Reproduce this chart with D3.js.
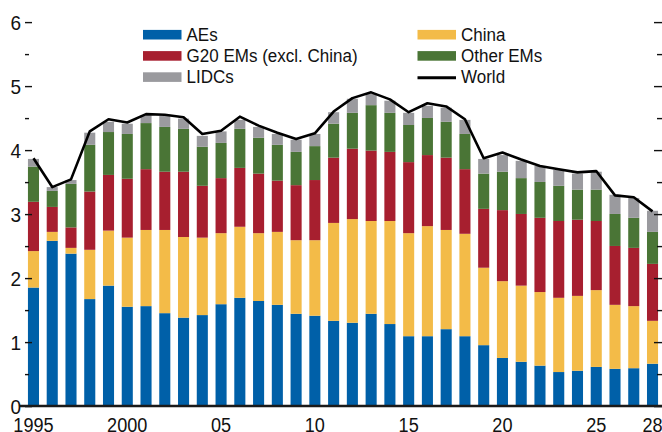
<!DOCTYPE html>
<html><head><meta charset="utf-8">
<script src="https://cdn.jsdelivr.net/npm/d3@7"></script>
<style>
html,body{margin:0;padding:0;background:#fff;}
svg{display:block;}
text{font-family:"Liberation Sans",Arial,sans-serif;fill:#111;}
</style></head>
<body><svg id="c" width="662" height="432"></svg>
<script>
const years = d3.range(1995, 2029);
const xTickLabels = {1995:"1995",2000:"2000",2005:"05",2010:"10",2015:"15",2020:"20",2025:"25",2028:"28"};
const seriesNames = ["AEs","China","G20 EMs (excl. China)","Other EMs","LIDCs"];
const aes   = [1.86,2.59,2.39,1.68,1.89,1.56,1.57,1.46,1.39,1.43,1.60,1.70,1.65,1.59,1.45,1.42,1.34,1.31,1.45,1.29,1.10,1.10,1.21,1.10,0.96,0.76,0.70,0.64,0.54,0.56,0.62,0.59,0.60,0.67];
const china = [0.57,0.14,0.09,0.77,0.86,1.08,1.19,1.30,1.26,1.21,1.11,1.11,1.06,1.14,1.15,1.18,1.53,1.62,1.45,1.61,1.61,1.72,1.55,1.60,1.21,1.20,1.19,1.15,1.16,1.17,1.20,1.00,0.97,0.67];
const g20   = [0.77,0.39,0.32,0.91,0.87,0.92,0.95,0.91,1.02,0.81,0.86,0.92,0.93,0.80,0.86,0.94,1.02,1.10,1.10,1.08,1.11,1.11,1.13,1.01,0.92,1.11,1.12,1.16,1.20,1.19,1.08,0.92,0.91,0.89];
const other = [0.55,0.25,0.68,0.73,0.67,0.70,0.72,0.70,0.67,0.61,0.55,0.61,0.56,0.56,0.52,0.53,0.53,0.56,0.71,0.61,0.58,0.58,0.56,0.55,0.55,0.60,0.56,0.56,0.55,0.47,0.49,0.50,0.47,0.50];
const lidcs = [0.12,0.06,0.06,0.19,0.16,0.16,0.12,0.17,0.16,0.17,0.18,0.14,0.17,0.17,0.19,0.19,0.18,0.22,0.18,0.19,0.19,0.19,0.22,0.22,0.23,0.26,0.27,0.25,0.25,0.25,0.28,0.30,0.31,0.33];
const world = [3.88,3.43,3.55,4.30,4.49,4.44,4.57,4.56,4.52,4.26,4.31,4.53,4.39,4.28,4.18,4.27,4.61,4.82,4.91,4.80,4.60,4.74,4.69,4.49,3.88,3.97,3.86,3.76,3.71,3.66,3.68,3.30,3.27,3.05];
const yTicks = [0,1,2,3,4,5,6];
const colors = {"AEs":"#0060a8","China":"#f3bb48","G20 EMs (excl. China)":"#a71f2f","Other EMs":"#4a7536","LIDCs":"#9a9a9e"};

const seriesValues = [aes, china, g20, other, lidcs];
const rows = years.map((y,i)=>{const r={year:y}; seriesNames.forEach((n,k)=>r[n]=seriesValues[k][i]); return r;});
const stack = d3.stack().keys(seriesNames)(rows);

const svg = d3.select("#c");
const x = d3.scaleBand().domain(years).range([24.1, 661.9]).paddingInner(0.41).paddingOuter(0.205);
const y = d3.scaleLinear().domain([0,6]).range([406.6, 22.6]);

// bars
svg.append("g").selectAll("g").data(stack).join("g")
  .attr("fill", d=>colors[d.key])
  .selectAll("rect").data(d=>d).join("rect")
  .attr("x", d=>x(d.data.year))
  .attr("width", x.bandwidth())
  .attr("y", d=>y(d[1]))
  .attr("height", d=>y(d[0])-y(d[1]));

// left ticks
const ticks = d3.range(0, 6.01, 0.5);
svg.append("g").selectAll("line").data(ticks).join("line")
  .attr("x1",25).attr("x2",d=>Number.isInteger(d)?32:29)
  .attr("y1",d=>y(d)).attr("y2",d=>y(d))
  .attr("stroke","#111").attr("stroke-width",1.4);
// right ticks
svg.append("g").selectAll("line").data(ticks).join("line")
  .attr("x1",d=>Number.isInteger(d)?654:657).attr("x2",662)
  .attr("y1",d=>y(d)).attr("y2",d=>y(d))
  .attr("stroke","#111").attr("stroke-width",1.4);
// y labels
svg.append("g").selectAll("text").data(yTicks).join("text")
  .attr("transform",d=>`translate(21,${y(d)+7.3}) scale(0.95,1)`).attr("text-anchor","end")
  .attr("font-size",20).text(d=>d);

// zero axis line
svg.append("line").attr("x1",19).attr("x2",662).attr("y1",y(0)-0.5).attr("y2",y(0)-0.5)
  .attr("stroke","#1a1a1a").attr("stroke-width",2.5);

// x labels
svg.append("g").selectAll("text").data(years.filter(d=>xTickLabels[d])).join("text")
  .attr("transform",d=>`translate(${x(d)+x.bandwidth()/2},431.5) scale(0.93,1)`).attr("text-anchor","middle")
  .attr("font-size",19.5).text(d=>xTickLabels[d]);

// world line
svg.append("path").datum(world)
  .attr("fill","none").attr("stroke","#000").attr("stroke-width",2.6).attr("stroke-linejoin","round")
  .attr("d", d3.line().x((d,i)=>x(years[i])+x.bandwidth()/2).y(d=>y(d)));

// legend
const legendItems = [
  {name:"AEs", col:0, row:0},
  {name:"G20 EMs (excl. China)", col:0, row:1},
  {name:"LIDCs", col:0, row:2},
  {name:"China", col:1, row:0},
  {name:"Other EMs", col:1, row:1},
  {name:"World", col:1, row:2, line:true}
];
const lg = svg.append("g");
const colX = [143, 417.5];
legendItems.forEach(it=>{
  const cy = 34.7 + it.row*21.2;
  const gx = colX[it.col];
  if(it.line){
    lg.append("line").attr("x1",gx).attr("x2",gx+38.5).attr("y1",cy+0.6).attr("y2",cy+0.6)
      .attr("stroke","#000").attr("stroke-width",3);
  } else {
    lg.append("rect").attr("x",gx).attr("y",cy-4.8).attr("width",38.5).attr("height",9.6)
      .attr("fill",colors[it.name]);
  }
  lg.append("text").attr("transform",`translate(${gx+43.5},${cy+5.8}) scale(0.92,1)`)
    .attr("font-size",18.5).text(it.name);
});
</script></body></html>
